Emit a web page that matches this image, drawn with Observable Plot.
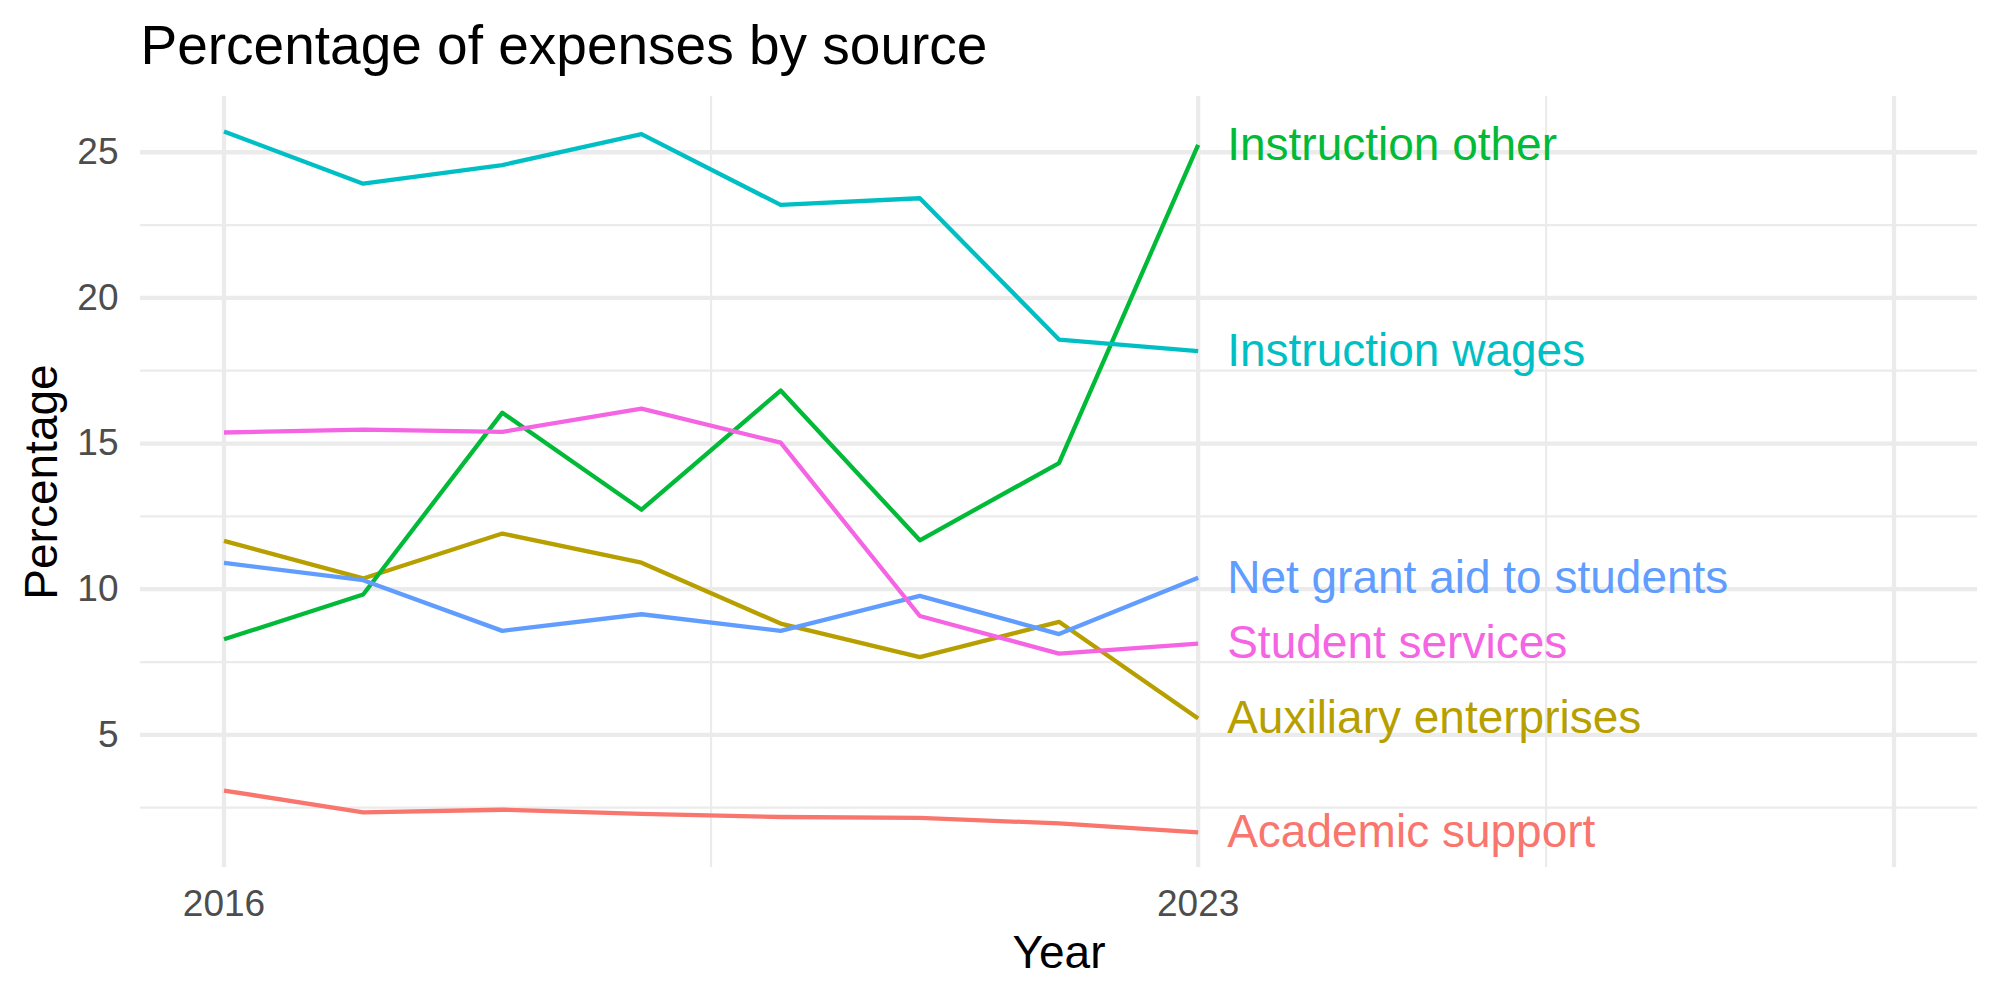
<!DOCTYPE html>
<html>
<head>
<meta charset="utf-8">
<script src="https://cdn.jsdelivr.net/npm/d3@7"></script>
<script src="https://cdn.jsdelivr.net/npm/@observablehq/plot@0.6"></script>
<style>
  html, body { margin: 0; padding: 0; background: #ffffff; }
  #chart svg { display: block; }
</style>
</head>
<body>
<div id="chart"></div>
<script>
// ---- Data ----
const years = [2016, 2017, 2018, 2019, 2020, 2021, 2022, 2023];
const seriesNames = ["Academic support", "Auxiliary enterprises", "Instruction other", "Instruction wages", "Net grant aid to students", "Student services"];
const academicSupport      = [3.09, 2.34, 2.43, 2.29, 2.18, 2.15, 1.96, 1.65];
const auxiliaryEnterprises = [11.66, 10.37, 11.91, 10.91, 8.82, 7.67, 8.88, 5.56];
const instructionOther     = [8.28, 9.82, 16.06, 12.73, 16.82, 11.68, 14.33, 25.25];
const instructionWages     = [25.71, 23.92, 24.56, 25.62, 23.19, 23.42, 18.57, 18.17];
const netGrantAid          = [10.90, 10.31, 8.57, 9.14, 8.57, 9.77, 8.46, 10.39];
const studentServices      = [15.38, 15.48, 15.40, 16.20, 15.03, 9.08, 7.79, 8.13];
const seriesColors = ["#F8766D", "#B79F00", "#00BA38", "#00BFC4", "#619CFF", "#F564E3"];

const xTicks = [2016, 2023];
const xTickLabels = ["2016", "2023"];
const xMajorGrid = [2016, 2023, 2028];
const xMinorGrid = [2019.5, 2025.5];
const yTicks = [5, 10, 15, 20, 25];
const yMinorGrid = [2.5, 7.5, 12.5, 17.5, 22.5];

// ---- Build table ----
const valuesBySeries = [academicSupport, auxiliaryEnterprises, instructionOther, instructionWages, netGrantAid, studentServices];
const data = [];
seriesNames.forEach((s, i) => {
  years.forEach((y, j) => data.push({series: s, year: y, value: valuesBySeries[i][j]}));
});
const lastYear = years[years.length - 1];
const labelData = data.filter(d => d.year === lastYear);

const vmin = d3.min(data, d => d.value), vmax = d3.max(data, d => d.value);
const pad = (vmax - vmin) * 0.05;

const font = "'Liberation Sans', Arial, Helvetica, sans-serif";

const chart = Plot.plot({
  width: 2000,
  height: 1000,
  marginTop: 96,
  marginBottom: 133,
  marginLeft: 140,
  marginRight: 23,
  style: {fontFamily: font, background: "#ffffff"},
  x: {domain: [2015.4, 2028.6], axis: null},
  y: {domain: [vmin - pad, vmax + pad], axis: null},
  color: {domain: seriesNames, range: seriesColors},
  marks: [
    Plot.ruleY(yMinorGrid, {stroke: "#EBEBEB", strokeWidth: 2.2}),
    Plot.ruleX(xMinorGrid, {stroke: "#EBEBEB", strokeWidth: 2.2}),
    Plot.ruleY(yTicks, {stroke: "#EBEBEB", strokeWidth: 4.3}),
    Plot.ruleX(xMajorGrid, {stroke: "#EBEBEB", strokeWidth: 4.3}),
    Plot.line(data, {x: "year", y: "value", z: "series", stroke: "series", strokeWidth: 4.3, strokeLinejoin: "round", strokeLinecap: "butt"}),
    Plot.text(labelData, {x: "year", y: "value", text: "series", fill: "series", textAnchor: "start", lineAnchor: "middle", dx: 29, fontSize: 46}),
    // axes
    Plot.axisY(yTicks, {tickSize: 0, tickPadding: 22, fontSize: 37, fill: "#4D4D4D", label: null}),
    Plot.axisX(xTicks, {tickSize: 0, tickPadding: 22, fontSize: 37, fill: "#4D4D4D", label: null, tickFormat: d => xTickLabels[xTicks.indexOf(d)]}),
    // axis titles
    Plot.text(["Year"], {frameAnchor: "bottom", textAnchor: "middle", lineAnchor: "middle", dy: 86, fontSize: 46, fill: "#000000"}),
    Plot.text(["Percentage"], {frameAnchor: "left", textAnchor: "middle", lineAnchor: "middle", rotate: -90, dx: -98, fontSize: 46, fill: "#000000"}),
    // title
    Plot.text(["Percentage of expenses by source"], {frameAnchor: "top-left", textAnchor: "start", lineAnchor: "middle", dy: -50, fontSize: 55, fill: "#000000"})
  ]
});
document.getElementById("chart").appendChild(chart);
</script>
</body>
</html>
